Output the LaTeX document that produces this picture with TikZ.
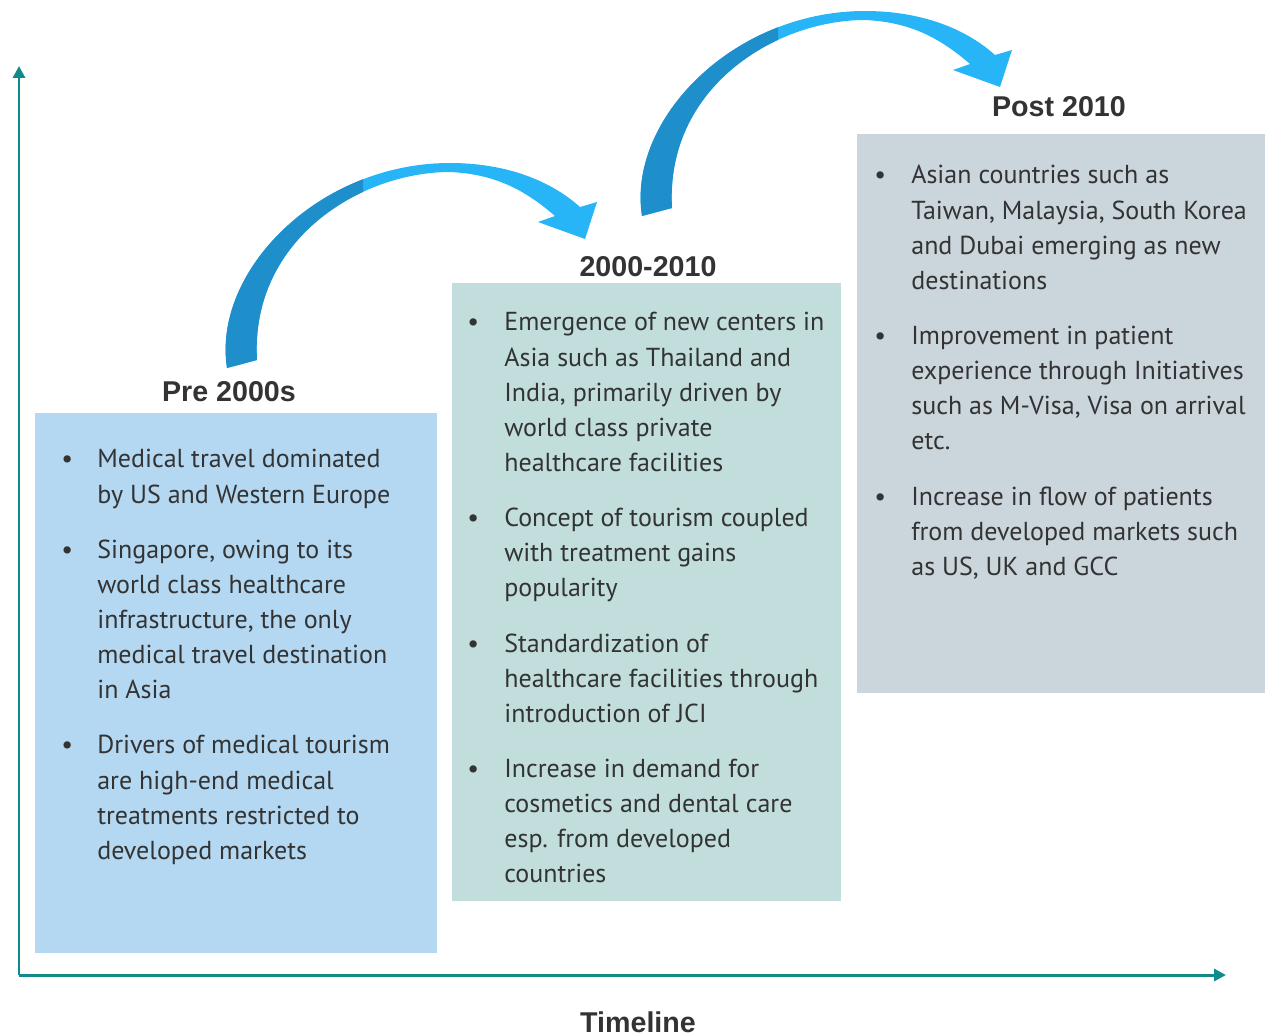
\documentclass[tikz,border=0pt]{standalone}
\usepackage{fontspec}
\setmainfont{PT Sans}
\newfontfamily\headfont{Liberation Sans}
\usetikzlibrary{arrows.meta}

\definecolor{axisteal}{HTML}{108A8C}
\definecolor{preblue}{HTML}{B4D8F1}
\definecolor{midgreen}{HTML}{C1DEDD}
\definecolor{postgrey}{HTML}{CBD5DC}
\definecolor{arrowdark}{HTML}{1F8FCB}
\definecolor{arrowlight}{HTML}{27B5F8}
\definecolor{txtgrey}{HTML}{333333}

%% outline of one curved block arrow (pixel units)
\newcommand{\arcpath}{(227,368) .. controls (212,272) and (318,163) .. (450,163)
    .. controls (505,163) and (550,180) .. (580,207)
    -- (597,202) -- (585,239) -- (538,222) -- (555,216)
    .. controls (525,190) and (495,174) .. (450,172)
    .. controls (360,172) and (250,240) .. (257,360) -- cycle}

\tikzset{
  phase/.style={font=\headfont\bfseries\fontsize{16.3}{19}\selectfont, text=txtgrey, inner sep=0pt},
  bullets/.style={anchor=north west, inner sep=0pt, text=txtgrey, font=\fontsize{14.8}{20}\selectfont},
  axis/.style={draw=axisteal, line width=1.7pt, -{Triangle[length=6.8pt,width=6.8pt]}},
  timearrow/.pic={
    \fill[arrowlight] \arcpath;
    \begin{scope}
      \clip (200,100) rectangle (363,400);
      \fill[arrowdark] \arcpath;
    \end{scope}
  }
}

\begin{document}
\begin{tikzpicture}[x=0.02cm, y=-0.02cm]
    \useasboundingbox (0,0) rectangle (1265,1035);

    %%axes
    \coordinate (origin) at (19,975);
    \coordinate (ytop) at (19,66);
    \coordinate (xend) at (1226,975);
    \draw[axis] (origin) to (ytop);
    \draw[axis] (origin) to (xend);
        \node[phase] (timeline) at (638,1022){Timeline};

    %%boxes
    \fill[preblue] (35,413) rectangle (437,953);
    \fill[midgreen] (452,283) rectangle (841,901);
    \fill[postgrey] (857,134) rectangle (1265,693);

    %%curved arrows
    \pic at (0,0) {timearrow};
    \pic at (415,-152) {timearrow};

    %%pre 2000s
    \node[phase] (pre) at (229,392){Pre 2000s};
    \node[bullets] (prelist) at (61,443){%
      \begin{tabular}{@{}p{0.72cm}@{}l@{}}
        \textbullet & Medical travel dominated\\
        & by US and Western Europe\\[11.4pt]
        \textbullet & Singapore, owing to its\\
        & world class healthcare\\
        & infrastructure, the only\\
        & medical travel destination\\
        & in Asia\\[11.4pt]
        \textbullet & Drivers of medical tourism\\
        & are high-end medical\\
        & treatments restricted to\\
        & developed markets
      \end{tabular}};

    %%2000-2010
    \node[phase] (mid) at (648,267){2000-2010};
    \node[bullets] (midlist) at (467,306){%
      \begin{tabular}{@{}p{0.74cm}@{}l@{}}
        \textbullet & Emergence of new centers in\\
        & Asia such as Thailand and\\
        & India, primarily driven by\\
        & world class private\\
        & healthcare facilities\\[11.4pt]
        \textbullet & Concept of tourism coupled\\
        & with treatment gains\\
        & popularity\\[11.4pt]
        \textbullet & Standardization of\\
        & healthcare facilities through\\
        & introduction of JCI\\[11.4pt]
        \textbullet & Increase in demand for\\
        & cosmetics and dental care\\
        & esp. from developed\\
        & countries
      \end{tabular}};

    %%post 2010
    \node[phase] (post) at (1059,107){Post 2010};
    \node[bullets] (postlist) at (874,159){%
      \begin{tabular}{@{}p{0.74cm}@{}l@{}}
        \textbullet & Asian countries such as\\
        & Taiwan, Malaysia, South Korea\\
        & and Dubai emerging as new\\
        & destinations\\[11.4pt]
        \textbullet & Improvement in patient\\
        & experience through Initiatives\\
        & such as M-Visa, Visa on arrival\\
        & etc.\\[11.4pt]
        \textbullet & Increase in flow of patients\\
        & from developed markets such\\
        & as US, UK and GCC
      \end{tabular}};

\end{tikzpicture}
\end{document}
